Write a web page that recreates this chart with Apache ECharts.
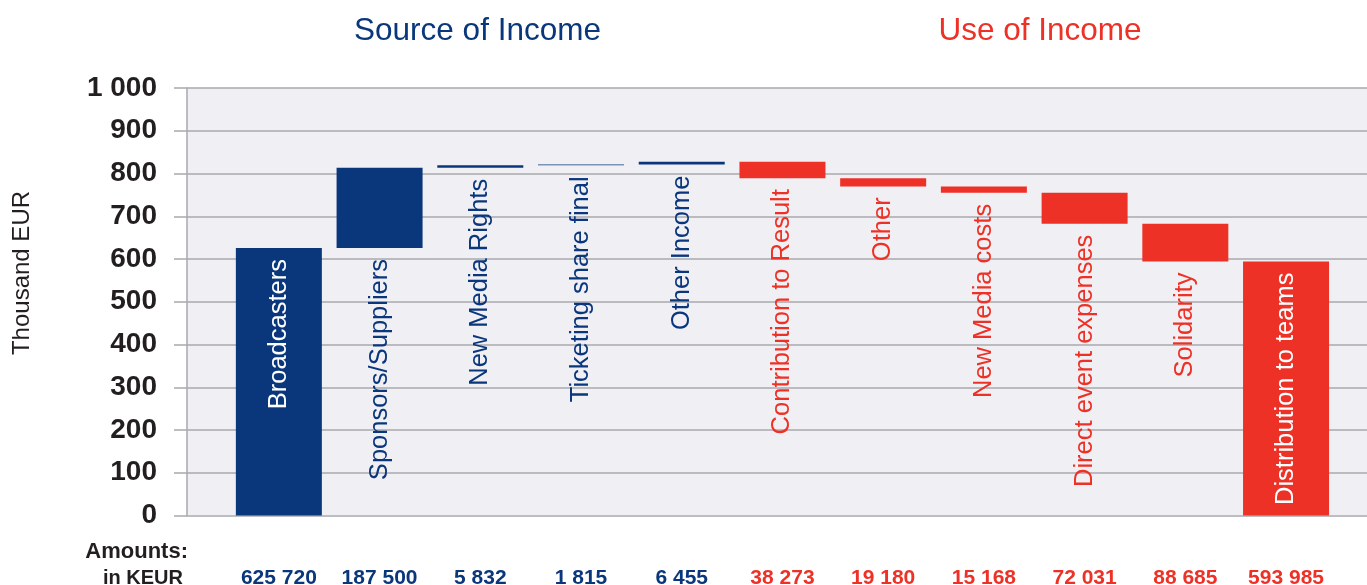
<!DOCTYPE html>
<html>
<head>
<meta charset="utf-8">
<script src="https://cdn.jsdelivr.net/npm/echarts@6/dist/echarts.min.js"></script>
<style>
html,body{margin:0;padding:0;background:#fff;}
#chart{width:1367px;height:585px;}
</style>
</head>
<body>
<div id="chart"></div>
<script>
// ---- data (amounts in KEUR) ----
const categories = ['Broadcasters','Sponsors/Suppliers','New Media Rights','Ticketing share final','Other Income',
  'Contribution to Result','Other','New Media costs','Direct event expenses','Solidarity','Distribution to teams'];
const amounts = [625720, 187500, 5832, 1815, 6455, 38273, 19180, 15168, 72031, 88685, 593985];
const kinds = ['income','income','income','income','income','use','use','use','use','use','use'];
const sectionTitles = ['Source of Income', 'Use of Income'];
const yMin = 0, yMax = 1000, yStep = 100;

const NAVY = '#0a377c';
const RED = '#ee3126';
const TXT = '#231f20';
const GRIDC = '#a9a8ae';
const FONT = '"Liberation Sans", Arial, Helvetica, sans-serif';

function fmt(n){ return String(n).replace(/\B(?=(\d{3})+(?!\d))/g, ' '); }

// waterfall bases (thousand EUR)
const base = [], height = [];
let running = 0;
amounts.forEach((a, i) => {
  const v = a / 1000;
  if (kinds[i] === 'income') { base.push(running); running += v; }
  else { running -= v; base.push(running); }
  height.push(v);
});

const valueData = height.map((v, i) => {
  const col = kinds[i] === 'income' ? NAVY : RED;
  const inside = v > 300;
  return {
    value: v,
    itemStyle: { color: col },
    label: {
      show: true,
      formatter: categories[i],
      position: inside ? 'insideTop' : 'bottom',
      distance: 11,
      rotate: 90,
      align: 'right',
      verticalAlign: 'middle',
      color: inside ? '#ffffff' : col,
      fontSize: 25.5,
      fontFamily: FONT
    }
  };
});

const chart = echarts.init(document.getElementById('chart'), null, { renderer: 'canvas' });
chart.setOption({
  animation: false,
  backgroundColor: '#ffffff',
  grid: [
    { left: 187, right: 0, top: 88, bottom: 69.5, show: true, backgroundColor: '#f0eff4', borderWidth: 0, outerBoundsMode: 'none', containLabel: false },
    { left: 228.5, right: 30.6, top: 88, bottom: 69.5, outerBoundsMode: 'none', containLabel: false }
  ],
  xAxis: [
    { gridIndex: 0, type: 'value', show: false, min: 0, max: 1 },
    {
      gridIndex: 1, type: 'category', data: categories,
      axisLine: { show: false }, axisTick: { show: false },
      axisLabel: {
        interval: 0, margin: 63, verticalAlign: 'middle',
        formatter: (val, idx) => (kinds[idx] === 'income' ? '{inc|' : '{use|') + fmt(amounts[idx]) + '}',
        rich: {
          inc: { color: NAVY, fontSize: 21, fontWeight: 'bold', fontFamily: FONT },
          use: { color: RED, fontSize: 21, fontWeight: 'bold', fontFamily: FONT }
        }
      }
    }
  ],
  yAxis: [
    {
      gridIndex: 0, type: 'value', min: yMin, max: yMax, interval: yStep,
      axisLine: { show: true, lineStyle: { color: GRIDC, width: 1.5 } },
      axisTick: { show: true, length: 13, lineStyle: { color: GRIDC, width: 1.5 } },
      splitLine: { show: true, lineStyle: { color: GRIDC, width: 1.5 } },
      axisLabel: {
        margin: 30, color: TXT, fontSize: 28, fontWeight: 'bold', fontFamily: FONT,
        padding: [5, 0, 0, 0],
        formatter: v => fmt(v)
      }
    },
    { gridIndex: 1, type: 'value', min: yMin, max: yMax, show: false }
  ],
  series: [
    {
      type: 'bar', xAxisIndex: 1, yAxisIndex: 1, stack: 'wf', silent: true,
      barWidth: 86, itemStyle: { color: 'rgba(0,0,0,0)' }, data: base
    },
    {
      type: 'bar', xAxisIndex: 1, yAxisIndex: 1, stack: 'wf', silent: true,
      barWidth: 86, data: valueData
    }
  ],
  graphic: [
    { type: 'text', x: 477.5, y: 31, style: { text: sectionTitles[0], fill: NAVY, font: '31.5px ' + FONT, align: 'center', verticalAlign: 'middle' } },
    { type: 'text', x: 1040, y: 31, style: { text: sectionTitles[1], fill: RED, font: '31.5px ' + FONT, align: 'center', verticalAlign: 'middle' } },
    { type: 'text', x: 22.5, y: 273, rotation: Math.PI / 2, style: { text: 'Thousand EUR', fill: TXT, font: '24px ' + FONT, align: 'center', verticalAlign: 'middle' } },
    { type: 'text', x: 188, y: 552, style: { text: 'Amounts:', fill: TXT, font: 'bold 22px ' + FONT, align: 'right', verticalAlign: 'middle' } },
    { type: 'text', x: 183, y: 578, style: { text: 'in KEUR', fill: TXT, font: 'bold 20px ' + FONT, align: 'right', verticalAlign: 'middle' } }
  ]
});
</script>
</body>
</html>
